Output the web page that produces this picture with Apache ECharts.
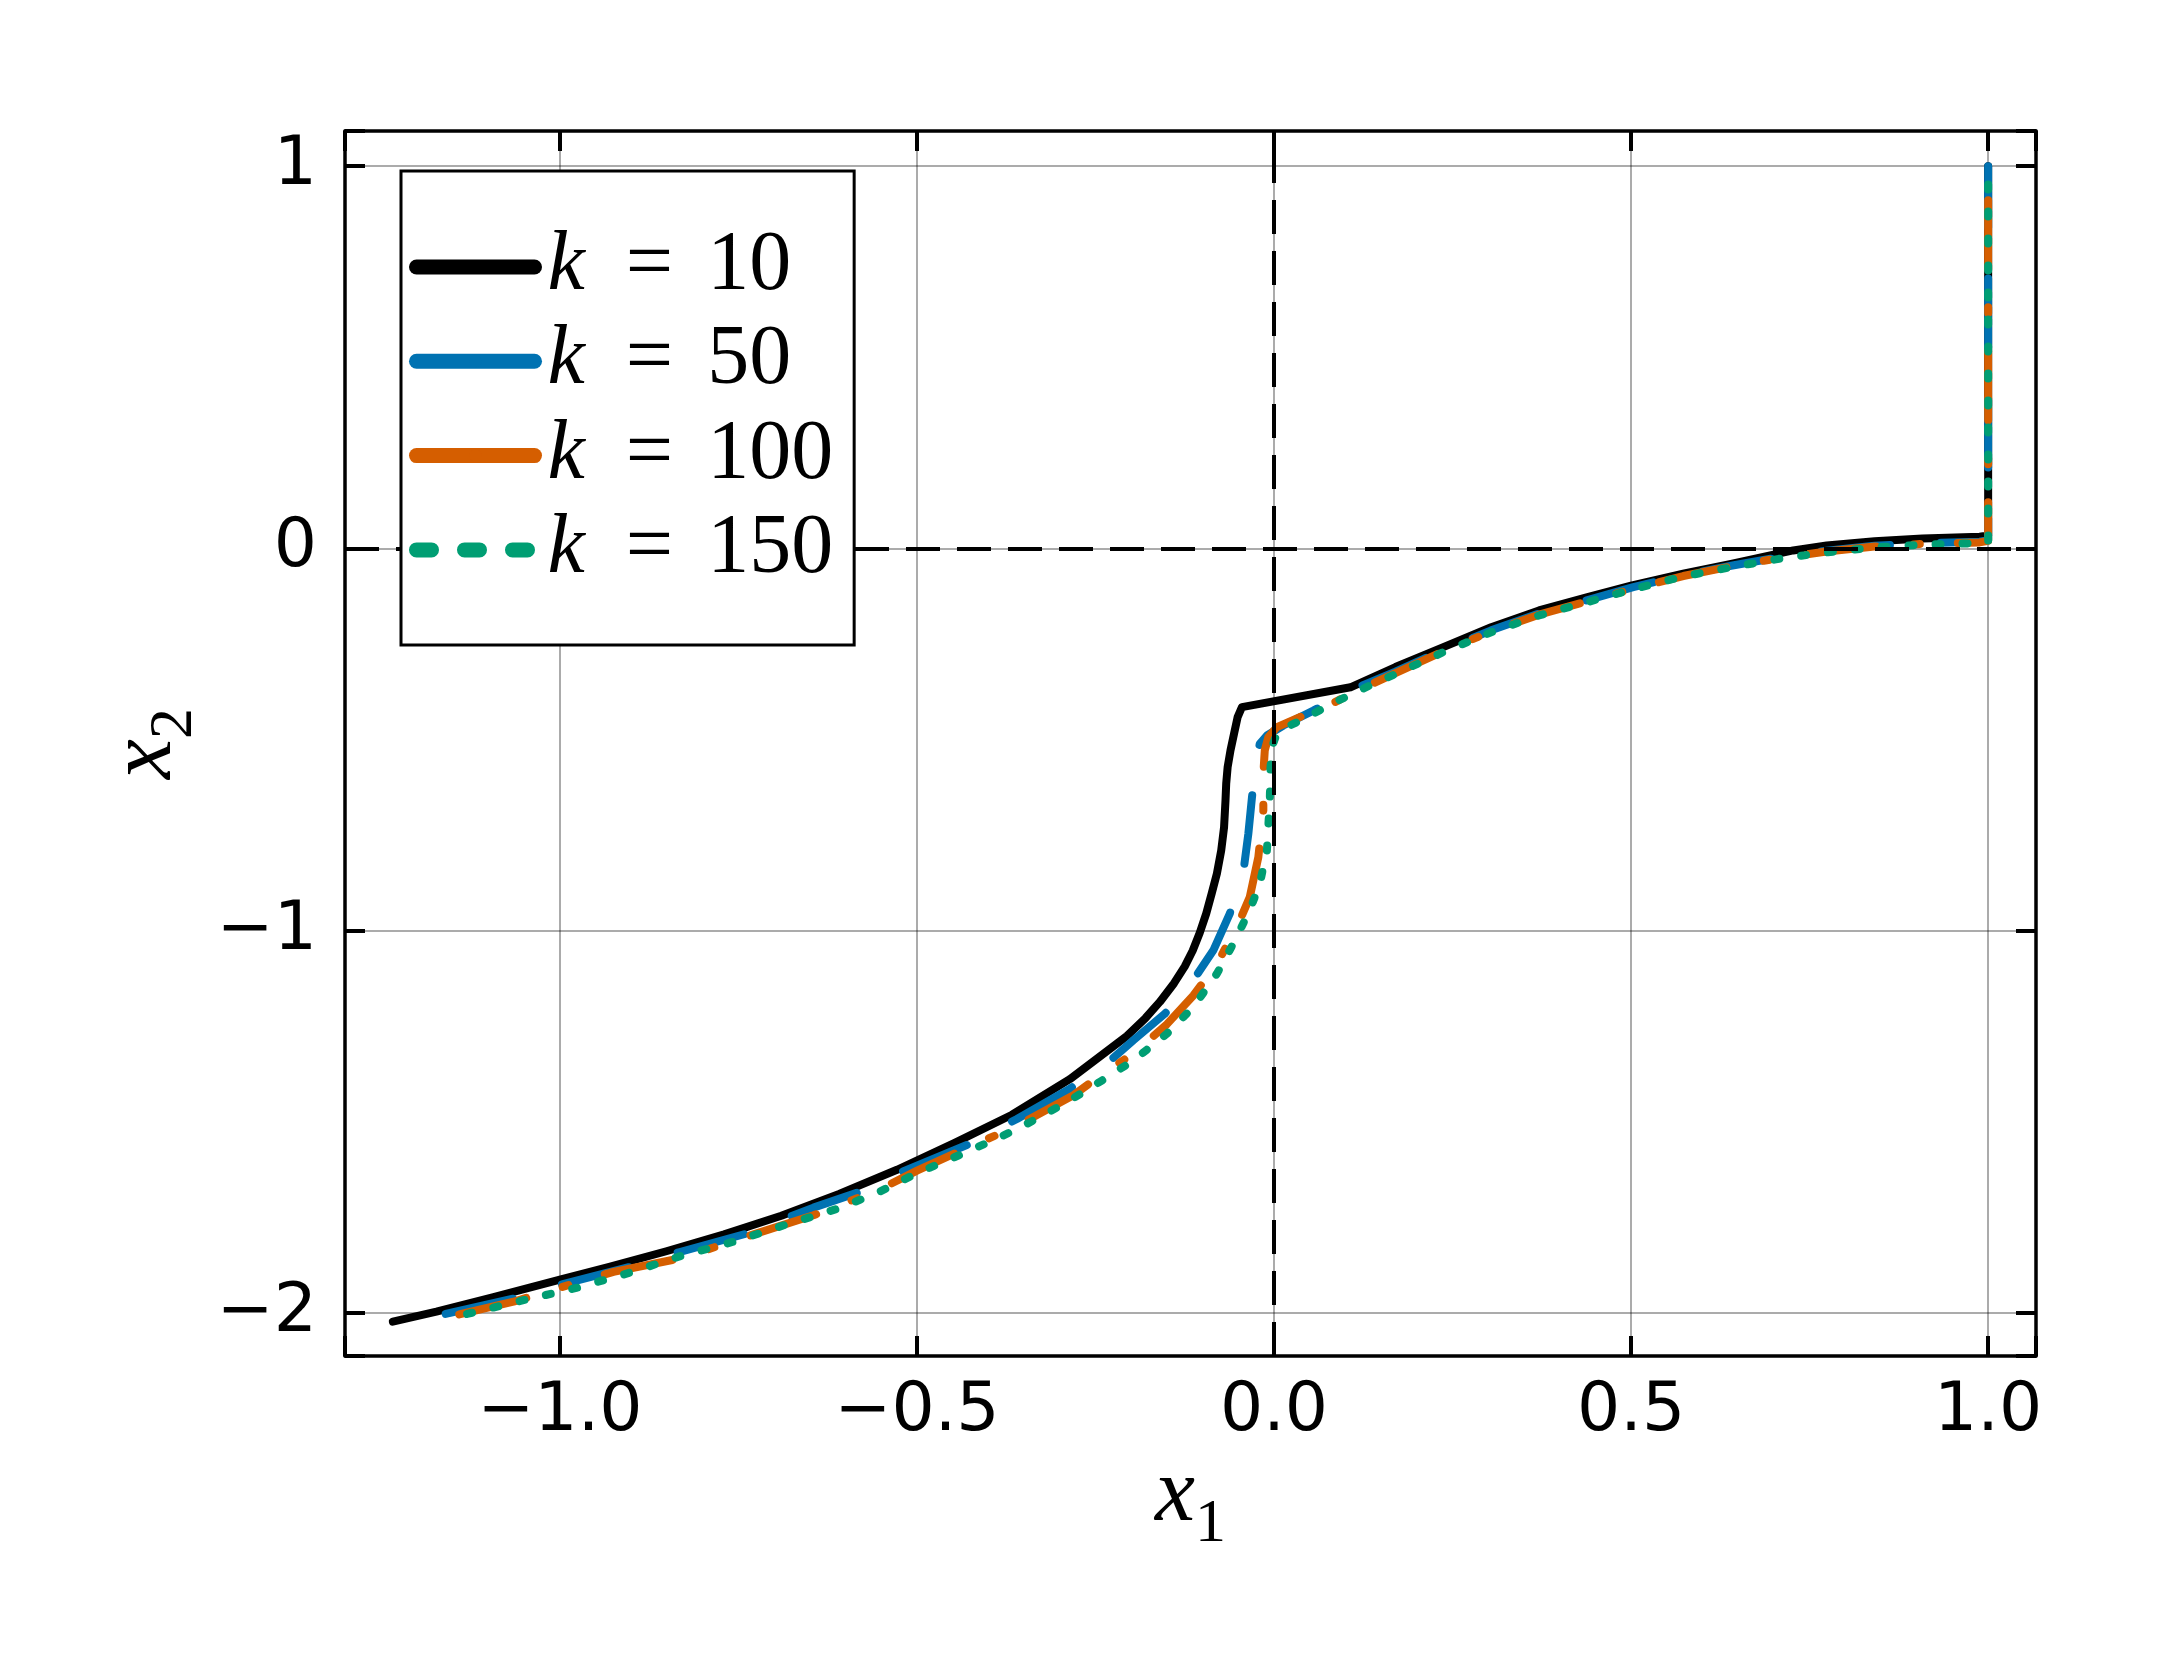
<!DOCTYPE html>
<html>
<head>
<meta charset="utf-8">
<script src="https://cdn.jsdelivr.net/npm/echarts@6/dist/echarts.min.js"></script>
<style>
  html, body { margin: 0; padding: 0; background: #ffffff; }
  #chart { width: 2167px; height: 1667px; }
</style>
</head>
<body>
<div id="chart"></div>
<script>
// ---- data, [x1, x2] points ----
const seriesNames = ['k = 10', 'k = 50', 'k = 100', 'k = 150'];
const seriesColors = ['#000000', '#0072B2', '#D55E00', '#009E73'];

const k10 = [
  [-1.234, -2.022], [-1.173, -1.996], [-1.093, -1.958], [-1.000, -1.912], [-0.931, -1.879],
  [-0.851, -1.838], [-0.770, -1.794], [-0.690, -1.745], [-0.609, -1.688], [-0.528, -1.625],
  [-0.448, -1.555], [-0.367, -1.481], [-0.286, -1.388], [-0.206, -1.275], [-0.180, -1.228],
  [-0.160, -1.186], [-0.140, -1.137], [-0.125, -1.093], [-0.114, -1.052], [-0.104, -1.005],
  [-0.095, -0.955], [-0.087, -0.900], [-0.080, -0.850], [-0.074, -0.790], [-0.070, -0.729],
  [-0.068, -0.659], [-0.067, -0.615], [-0.065, -0.572], [-0.061, -0.528], [-0.056, -0.484],
  [-0.051, -0.441], [-0.045, -0.415], [0.107, -0.363], [0.170, -0.310], [0.237, -0.258],
  [0.304, -0.206], [0.371, -0.162], [0.439, -0.127], [0.500, -0.097], [0.573, -0.066],
  [0.640, -0.040], [0.727, -0.005], [0.774, 0.008], [0.841, 0.019], [0.908, 0.026],
  [0.988, 0.031], [1.000, 0.034], [1.000, 1.000]
];

const k50 = [
  [-1.160, -2.002], [-1.065, -1.962], [-1.000, -1.926], [-0.902, -1.879], [-0.832, -1.840],
  [-0.739, -1.792], [-0.645, -1.724], [-0.584, -1.685], [-0.524, -1.633], [-0.430, -1.560],
  [-0.360, -1.492], [-0.286, -1.413], [-0.234, -1.347], [-0.197, -1.286], [-0.153, -1.217],
  [-0.113, -1.129], [-0.085, -1.051], [-0.062, -0.955], [-0.043, -0.846], [-0.036, -0.746],
  [-0.031, -0.652], [-0.024, -0.537], [-0.020, -0.511], [-0.010, -0.489], [0.013, -0.463],
  [0.055, -0.424], [0.111, -0.368], [0.170, -0.322], [0.237, -0.266], [0.304, -0.214],
  [0.371, -0.170], [0.439, -0.135], [0.503, -0.101], [0.573, -0.070], [0.640, -0.045],
  [0.707, -0.023], [0.774, -0.006], [0.841, 0.007], [0.908, 0.014], [0.988, 0.018],
  [1.000, 0.022], [1.000, 1.000]
];

const k100 = [
  [-1.141, -2.003], [-1.065, -1.970], [-1.000, -1.933], [-0.925, -1.892], [-0.832, -1.857],
  [-0.739, -1.800], [-0.645, -1.744], [-0.552, -1.676], [-0.500, -1.627], [-0.430, -1.568],
  [-0.360, -1.510], [-0.281, -1.430], [-0.244, -1.379], [-0.197, -1.321], [-0.150, -1.244],
  [-0.113, -1.169], [-0.080, -1.086], [-0.052, -0.990], [-0.034, -0.912], [-0.022, -0.807],
  [-0.015, -0.685], [-0.015, -0.589], [-0.013, -0.528], [-0.008, -0.493], [0.004, -0.467],
  [0.036, -0.441], [0.083, -0.404], [0.116, -0.372], [0.170, -0.326], [0.237, -0.269],
  [0.304, -0.217], [0.371, -0.173], [0.439, -0.138], [0.506, -0.104], [0.573, -0.072],
  [0.640, -0.047], [0.707, -0.025], [0.774, -0.008], [0.841, 0.005], [0.908, 0.012],
  [0.988, 0.016], [1.000, 0.020], [1.000, 1.000]
];

const k150 = [
  [-1.130, -2.002], [-1.051, -1.966], [-0.977, -1.934], [-0.902, -1.894], [-0.830, -1.850],
  [-0.753, -1.811], [-0.683, -1.768], [-0.608, -1.725], [-0.552, -1.682], [-0.500, -1.634],
  [-0.430, -1.578], [-0.360, -1.519], [-0.290, -1.448], [-0.244, -1.395], [-0.197, -1.339],
  [-0.150, -1.269], [-0.113, -1.199], [-0.080, -1.112], [-0.057, -1.033], [-0.034, -0.946],
  [-0.020, -0.877], [-0.010, -0.790], [-0.006, -0.659], [-0.005, -0.572], [-0.003, -0.519],
  [0.004, -0.484], [0.018, -0.467], [0.046, -0.441], [0.083, -0.404], [0.124, -0.367],
  [0.170, -0.328], [0.237, -0.271], [0.304, -0.219], [0.371, -0.175], [0.439, -0.140],
  [0.506, -0.105], [0.573, -0.073], [0.640, -0.049], [0.707, -0.027], [0.774, -0.010],
  [0.841, 0.003], [0.908, 0.010], [0.988, 0.014], [1.000, 0.018], [1.000, 1.000]
];

const xTicks = [-1.0, -0.5, 0.0, 0.5, 1.0];
const yTicks = [-2, -1, 0, 1];
const xRange = [-1.301, 1.067];
const yRange = [-2.112, 1.092];

// ---- helpers ----
function minusSign(s) { return s.replace('-', '\u2212'); }
function isTick(v, ticks) { return ticks.some(t => Math.abs(t - v) < 1e-6); }

const seriesData = [k10, k50, k100, k150];
const dashTypes = ['solid', [69, 51], [69, 38, 6, 38], [5, 22]];

const chart = echarts.init(document.getElementById('chart'), null, { renderer: 'canvas', devicePixelRatio: 1 });

const tickFont = { fontFamily: 'DejaVu Sans', fontSize: 68, color: '#000' };
const axisLineStyle = { show: true, onZero: false, lineStyle: { color: '#000', width: 3.5 } };
const axisTickStyle = { show: true, inside: true, length: 20, lineStyle: { color: '#000', width: 4 } };
const gridLineStyle = { show: true, lineStyle: { color: 'rgba(0,0,0,0.33)', width: 2 } };

const titleRich = {
  x: { fontFamily: 'Liberation Serif', fontStyle: 'italic', fontSize: 90, color: '#000', padding: [0, 0, 15, 0], verticalAlign: 'bottom' },
  s: { fontFamily: 'Liberation Serif', fontSize: 62, color: '#000', verticalAlign: 'bottom' }
};

const series = seriesNames.map((name, i) => ({
  name: name,
  type: 'line',
  data: seriesData[i],
  showSymbol: false,
  symbol: 'none',
  smooth: false,
  silent: true,
  color: seriesColors[i],
  lineStyle: { color: seriesColors[i], width: 8, type: dashTypes[i], cap: 'round', join: 'round' },
  z: 3
}));

series.push({
  name: 'zero lines',
  type: 'line',
  data: [],
  silent: true,
  z: 5,
  markLine: {
    silent: true,
    symbol: ['none', 'none'],
    label: { show: false },
    lineStyle: { color: '#000', width: 4, type: [34, 17] },
    emphasis: { disabled: true },
    data: [{ yAxis: 0 }, { xAxis: 0 }]
  }
});

const option = {
  backgroundColor: '#ffffff',
  animation: false,
  grid: { left: 345, right: 131, top: 131, bottom: 311, containLabel: false },
  legend: {
    show: true,
    data: seriesNames.map((n, i) => ({
      name: n,
      lineStyle: i === 3
        ? { width: 15, type: [15, 33], cap: 'round', color: seriesColors[i] }
        : { width: 15, type: 'solid', cap: 'round', color: seriesColors[i] }
    })),
    orient: 'vertical',
    left: 401,
    top: 171,
    padding: [54, 21, 53, 8],
    itemGap: 10.3,
    itemWidth: 118,
    itemHeight: 15,
    backgroundColor: '#ffffff',
    borderColor: '#000',
    borderWidth: 3,
    borderRadius: 0,
    z: 10,
    selectedMode: false,
    formatter: function (name) {
      const n = name.split(' = ')[1];
      return '{k|k}{eq|=}{n|' + n + '}';
    },
    textStyle: {
      color: '#000',
      rich: {
        k: { fontFamily: 'Liberation Serif', fontStyle: 'italic', fontSize: 84, lineHeight: 84, padding: [0, 41, 0, 8], color: '#000' },
        eq: { fontFamily: 'Liberation Serif', fontSize: 84, lineHeight: 84, padding: [0, 34, 0, 0], color: '#000' },
        n: { fontFamily: 'Liberation Serif', fontSize: 84, lineHeight: 84, color: '#000' }
      }
    }
  },
  xAxis: [
    {
      type: 'value', position: 'bottom', min: xRange[0], max: xRange[1],
      splitNumber: 5, minInterval: 0.5, maxInterval: 0.5,
      axisLine: axisLineStyle, axisTick: axisTickStyle, splitLine: gridLineStyle,
      axisLabel: Object.assign({
        margin: 22,
        formatter: v => isTick(v, xTicks) ? minusSign((Math.abs(v) < 1e-9 ? 0 : v).toFixed(1)) : ''
      }, tickFont),
      name: '{x|x}{s|1}', nameLocation: 'middle', nameGap: 77,
      nameTextStyle: { rich: titleRich }
    },
    {
      type: 'value', position: 'top', min: xRange[0], max: xRange[1],
      splitNumber: 5, minInterval: 0.5, maxInterval: 0.5,
      axisLine: axisLineStyle, axisTick: axisTickStyle, splitLine: { show: false },
      axisLabel: { show: false }
    }
  ],
  yAxis: [
    {
      type: 'value', position: 'left', min: yRange[0], max: yRange[1],
      splitNumber: 3, minInterval: 1, maxInterval: 1,
      axisLine: axisLineStyle, axisTick: axisTickStyle, splitLine: gridLineStyle,
      axisLabel: Object.assign({
        margin: 28,
        formatter: v => isTick(v, yTicks) ? minusSign(String(Math.round(v) === 0 ? 0 : Math.round(v))) : ''
      }, tickFont),
      name: '{x|x}{s|2}', nameLocation: 'middle', nameGap: 138, nameRotate: 90,
      nameTextStyle: { rich: titleRich }
    },
    {
      type: 'value', position: 'right', min: yRange[0], max: yRange[1],
      splitNumber: 3, minInterval: 1, maxInterval: 1,
      axisLine: axisLineStyle, axisTick: axisTickStyle, splitLine: { show: false },
      axisLabel: { show: false }
    }
  ],
  series: series
};

chart.setOption(option);
</script>
</body>
</html>
